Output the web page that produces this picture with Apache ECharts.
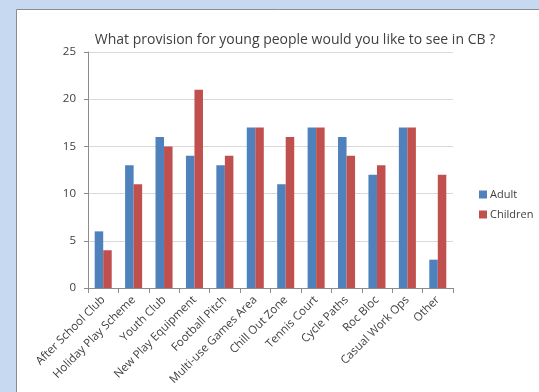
<!DOCTYPE html>
<html>
<head>
<meta charset="utf-8">
<script src="https://cdn.jsdelivr.net/npm/echarts@6/dist/echarts.min.js"></script>
<style>
  html, body { margin: 0; padding: 0; background: #c6d9f0; }
  #chart { width: 539px; height: 392px; }
</style>
</head>
<body>
<div id="chart"></div>
<script>
// Survey responses per provision type
const categories = [
  'After School Club', 'Holiday Play Scheme', 'Youth Club', 'New Play Equipment',
  'Football Pitch', 'Multi-use Games Area', 'Chill Out Zone', 'Tennis Court',
  'Cycle Paths', 'Roc Bloc', 'Casual Work Ops', 'Other'
];
const adult =    [6, 13, 16, 14, 13, 17, 11, 17, 16, 12, 17, 3];
const children = [4, 11, 15, 21, 14, 17, 16, 17, 14, 13, 17, 12];
const yTicks = [0, 5, 10, 15, 20, 25];

const font = '"Open Sans", sans-serif';
const chart = echarts.init(document.getElementById('chart'));

chart.setOption({
  backgroundColor: '#c6d9f0',
  animation: false,
  graphic: [{
    type: 'rect',
    shape: { x: 16.5, y: 9.5, width: 600, height: 500 },
    style: { fill: '#ffffff', stroke: '#8c8c8c', lineWidth: 1 },
    z: -10
  }],
  title: {
    text: 'What provision for young people would you like to see in CB ?',
    left: 290, top: 28, textAlign: 'center',
    textStyle: { fontFamily: font, fontSize: 14, fontWeight: 'normal', color: '#404040' }
  },
  legend: {
    orient: 'vertical', left: 474, top: 184, itemGap: 9,
    itemWidth: 8, itemHeight: 8, icon: 'rect',
    textStyle: { fontFamily: font, fontSize: 11, color: '#404040', padding: [0, 0, 0, -2] },
    data: ['Adult', 'Children']
  },
  grid: { left: 88, top: 52, width: 365, height: 236 },
  xAxis: {
    type: 'category', data: categories,
    axisLine: { lineStyle: { color: '#8c8c8c' } },
    axisTick: { show: true, length: 5, lineStyle: { color: '#8c8c8c' } },
    axisLabel: {
      rotate: 45, interval: 0, margin: 10,
      fontFamily: font, fontSize: 11.5, color: '#404040'
    }
  },
  yAxis: {
    type: 'value', min: yTicks[0], max: yTicks[yTicks.length - 1], interval: 5,
    axisLine: { show: true, lineStyle: { color: '#8c8c8c' } },
    axisTick: { show: true, length: 4, lineStyle: { color: '#8c8c8c' } },
    splitLine: { lineStyle: { color: '#d9d9d9' } },
    axisLabel: { fontFamily: font, fontSize: 11.5, color: '#404040', margin: 12 }
  },
  series: [
    { name: 'Adult', type: 'bar', data: adult, barGap: '0%', barCategoryGap: '44%',
      itemStyle: { color: '#4f81bd' } },
    { name: 'Children', type: 'bar', data: children,
      itemStyle: { color: '#c0504d' } }
  ]
});
</script>
</body>
</html>
